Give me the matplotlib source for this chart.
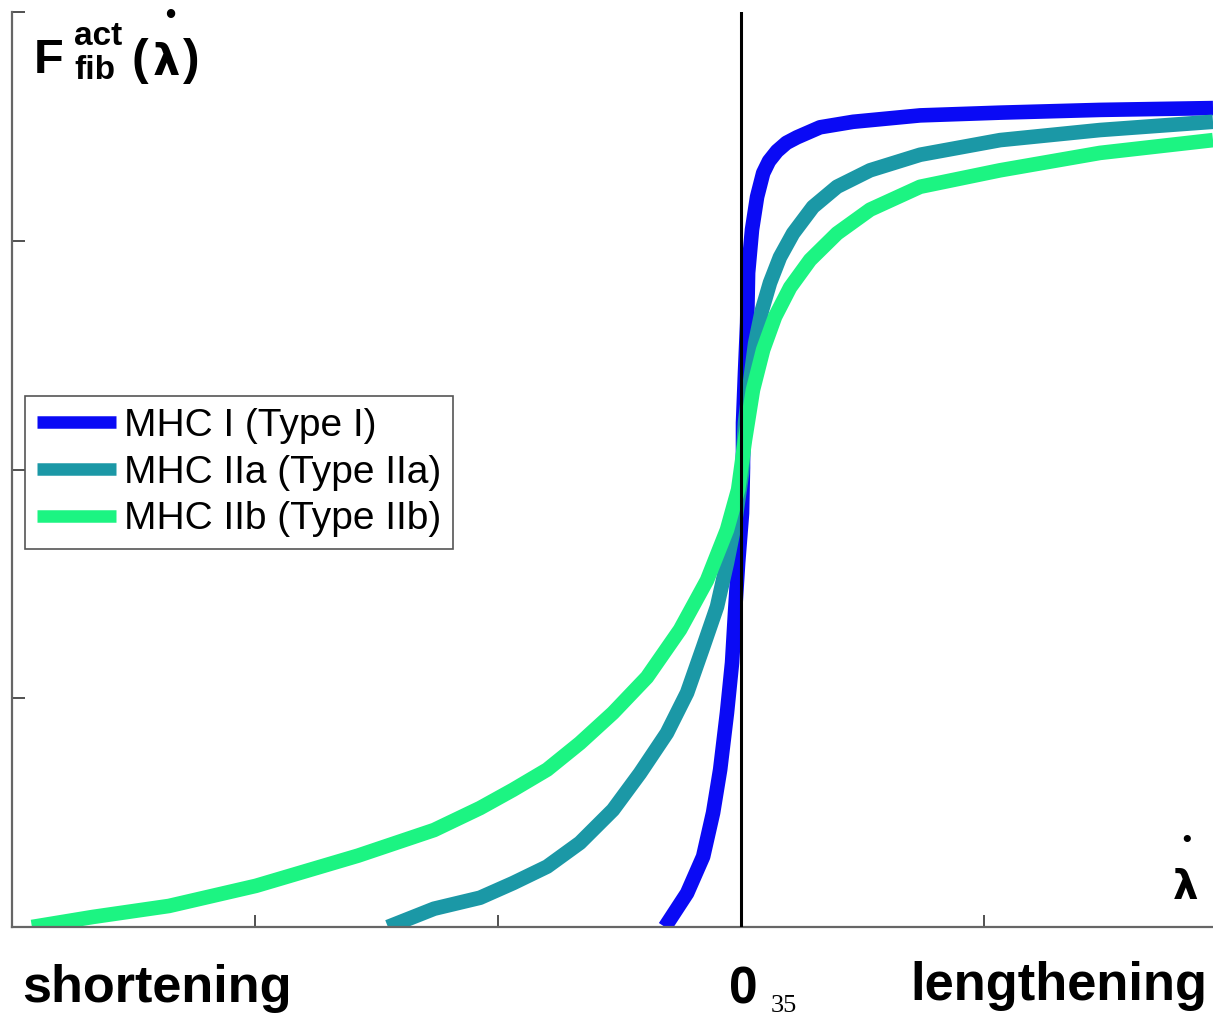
import matplotlib
matplotlib.use("Agg")
import matplotlib.pyplot as plt

# ---- data ----
labels = ["MHC I (Type I)", "MHC IIa (Type IIa)", "MHC IIb (Type IIb)"]
colors = ["#0a0af5", "#1b98a6", "#1cf482"]

x_type1 = [-0.313, -0.222, -0.156, -0.115, -0.086, -0.058, -0.037, -0.025, -0.012, 0.004,
           0.008, 0.008, 0.016, 0.025, 0.029, 0.045, 0.066, 0.091, 0.115, 0.148, 0.187,
           0.230, 0.325, 0.461, 0.737, 1.066, 1.477, 1.942]
y_type1 = [0.000, 0.037, 0.077, 0.125, 0.172, 0.234, 0.289, 0.343, 0.398, 0.452,
           0.502, 0.551, 0.605, 0.660, 0.715, 0.762, 0.798, 0.824, 0.837, 0.848, 0.857,
           0.863, 0.874, 0.880, 0.887, 0.890, 0.893, 0.895]

x_type2a = [-1.453, -1.263, -1.074, -0.938, -0.798, -0.663, -0.527, -0.416, -0.305, -0.222,
            -0.156, -0.099, -0.058, -0.025, 0.004, 0.016, 0.037, 0.058, 0.086, 0.119,
            0.160, 0.214, 0.296, 0.395, 0.531, 0.737, 1.066, 1.477, 1.942]
y_type2a = [0.000, 0.020, 0.032, 0.048, 0.066, 0.092, 0.128, 0.168, 0.212, 0.256,
            0.306, 0.350, 0.398, 0.442, 0.496, 0.551, 0.595, 0.638, 0.674, 0.704,
            0.732, 0.758, 0.787, 0.809, 0.827, 0.844, 0.860, 0.871, 0.880]

x_type2b = [-2.918, -2.667, -2.354, -1.996, -1.576, -1.263, -1.074, -0.938, -0.798, -0.663,
            -0.527, -0.387, -0.251, -0.140, -0.058, -0.012, 0.016, 0.049, 0.091, 0.140,
            0.202, 0.284, 0.395, 0.531, 0.737, 1.066, 1.477, 1.942]
y_type2b = [0.000, 0.011, 0.023, 0.045, 0.078, 0.106, 0.130, 0.150, 0.172, 0.201,
            0.234, 0.273, 0.325, 0.379, 0.434, 0.478, 0.532, 0.587, 0.631, 0.667,
            0.699, 0.729, 0.758, 0.784, 0.809, 0.827, 0.846, 0.860]

x_ticks = [-2, -1, 1]
y_ticks = [0.25, 0.5, 0.75, 1.0]

W, H = 1213, 1017
fig = plt.figure(figsize=(W / 100, H / 100), dpi=100)
ax = fig.add_axes([12 / W, 1 - 927 / H, 1 - 12 / W, (927 - 12) / H])

series = [(x_type1, y_type1), (x_type2a, y_type2a), (x_type2b, y_type2b)]
for (xs, ys), c, lab in zip(series, colors, labels):
    ax.plot(xs, ys, color=c, lw=10.5, label=lab, solid_capstyle="butt",
            solid_joinstyle="round")

ax.axvline(0, color="black", lw=2.2, zorder=5)

ax.set_xlim(-3.0, 1.942)
ax.set_ylim(0, 1.0)
ax.set_xticks(x_ticks)
ax.set_yticks(y_ticks)
ax.set_xticklabels([])
ax.set_yticklabels([])
ax.tick_params(direction="in", length=9, width=1.2, color="#333333")
for s in ["top", "right"]:
    ax.spines[s].set_visible(False)
for s in ["left", "bottom"]:
    ax.spines[s].set_color("#666666")
    ax.spines[s].set_linewidth(1.6)

leg = ax.legend(loc="upper left", bbox_to_anchor=(25 / W, 1 - 396 / H),
                bbox_transform=fig.transFigure, borderaxespad=0,
                prop={"family": "Liberation Sans", "size": 28},
                handlelength=2.05, handletextpad=0.2, borderpad=0.3,
                labelspacing=0.28, fancybox=False, framealpha=1)
leg.get_frame().set_edgecolor("#555555")
leg.get_frame().set_linewidth(1.2)
for h in leg.get_lines():
    h.set_linewidth(9)

def ftext(px, py, s, **kw):
    fig.text(px / W, 1 - py / H, s, **kw)

bold = dict(family="Liberation Sans", weight="bold", color="black")
bold_dv = dict(family="DejaVu Sans", weight="bold", color="black")
# bottom labels
ftext(22, 1002, "shortening", fontsize=37.6, va="baseline", ha="left", **bold)
ftext(910, 1000, "lengthening", fontsize=37.8, va="baseline", ha="left", **bold)
ftext(743, 1003, "0", fontsize=37, va="baseline", ha="center", **bold)
ftext(771, 1012, "35", fontsize=19, va="baseline", ha="left",
      family="Liberation Serif", color="black")

# y label F_fib^act(lambda-dot)
ftext(34, 73, "F", fontsize=35, va="baseline", ha="left", **bold)
ftext(74, 45, "act", fontsize=24, va="baseline", ha="left", **bold)
ftext(74, 79, "fib", fontsize=24, va="baseline", ha="left", **bold)
ftext(131, 74, "(", fontsize=36, va="baseline", ha="left", **bold)
ftext(166, 75, "λ", fontsize=31, va="baseline", ha="center", **bold_dv)
ftext(183, 74, ")", fontsize=36, va="baseline", ha="left", **bold)
ftext(170, 16, "•", fontsize=21, va="center", ha="center", **bold)

# x label lambda-dot
ftext(1186, 899, "λ", fontsize=29, va="baseline", ha="center", **bold_dv)
ftext(1187, 840, "•", fontsize=18, va="center", ha="center", **bold)

fig.savefig("out.png", dpi=100)
